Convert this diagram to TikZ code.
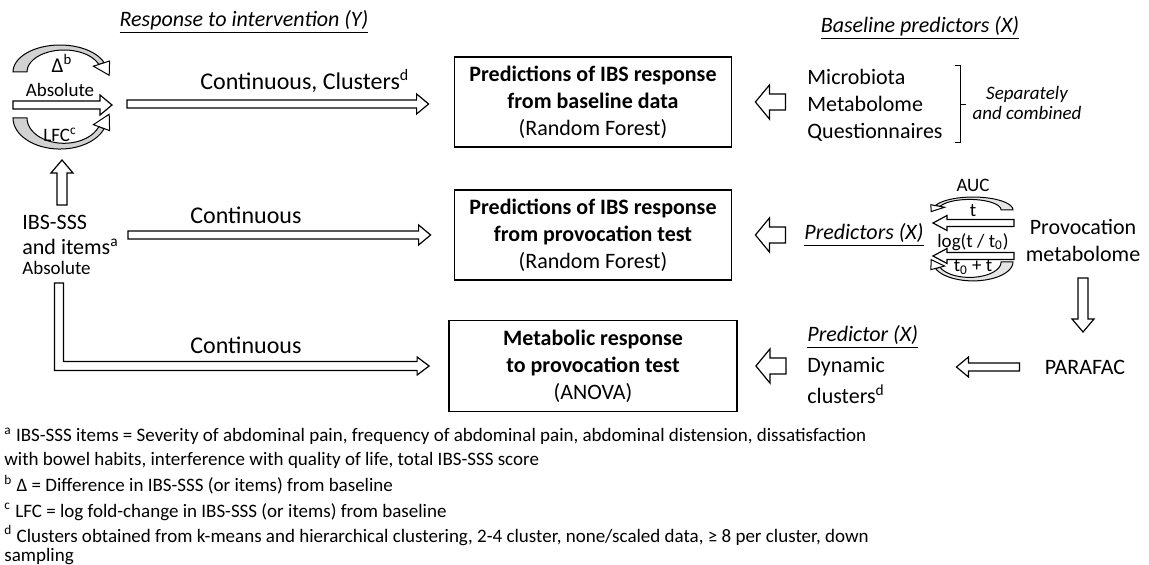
\documentclass[tikz,border=0pt]{standalone}
\usepackage{fontspec}
\setmainfont{Carlito}
\usetikzlibrary{positioning, calc}

\tikzset{
  % hollow block arrow: {shaft half width}{head half width}{head length}
  hollow/.style n args={3}{draw, fill=white, line width=0.6pt,
    to path={let \p1=(\tikztostart), \p2=(\tikztotarget),
      \n1={atan2(\y2-\y1,\x2-\x1)}, \n2={veclen(\x2-\x1,\y2-\y1)} in
      ($(\p1)+(\n1+90:#1)$) -- ++(\n1:{\n2-#3}) -- ++(\n1+90:{#2-#1}) -- (\p2)
      -- ($(\p2)+(\n1+180:#3)+(\n1-90:#2)$) -- ++(\n1+90:{#2-#1})
      -- ($(\p1)+(\n1-90:#1)$) -- cycle}},
  longarr/.style={hollow={2pt}{5pt}{6pt}},
  fatarr/.style={hollow={4pt}{8.5pt}{7pt}},
  thinarr/.style={hollow={1.75pt}{3.75pt}{7pt}},
  vertarr/.style={hollow={2.5pt}{5.5pt}{6.5pt}},
  % curved band arrow
  curvarr/.pic={
    \path[draw, line width=0.5pt, fill=#1]
      plot[domain=180:340, samples=30] ({47*cos(\x)},{27*sin(\x)})
      -- plot[domain=340:180, samples=30] ({4+37*cos(\x)},{22*sin(\x)}) -- cycle;
    \path[draw, line width=0.5pt, fill=white] (44.2,-9.2) -- (49.6,-11) -- (49.2,3.3)
      -- (33.4,-5.8) -- (38.8,-7.5) -- cycle;
  },
  txt/.style={inner sep=1pt, font=\fontsize{11}{13.5}\selectfont},
  small/.style={inner sep=1pt, font=\fontsize{9.5}{11}\selectfont},
  lbl/.style={inner sep=1pt, anchor=west, font=\fontsize{12}{14}\selectfont},
  note/.style={inner sep=0pt, anchor=base west, font=\fontsize{9.5}{11}\selectfont},
  box/.style={draw, line width=0.9pt, minimum width=138.5pt, minimum height=45pt,
    align=center, font=\fontsize{11}{13.5}\selectfont},
}

\begin{document}
\begin{tikzpicture}[x=0.5pt, y=-0.5pt]
\useasboundingbox (0,0) rectangle (1149,565);

% titles
\node[txt] (ytitle) at (244,22) {\underline{\textit{Response to intervention (Y)}}};
\node[txt] (xtitle) at (920,28) {\underline{\textit{Baseline predictors (X)}}};

% boxes
\node[box] (predbase) at (593,102) {\textbf{Predictions of IBS response}\\\textbf{from baseline data}\\(Random Forest)};
\node[box] (predprov) at (593,235) {\textbf{Predictions of IBS response}\\\textbf{from provocation test}\\(Random Forest)};
\node[box, minimum width=144pt, minimum height=45.5pt] (metab) at (593,366) {\textbf{Metabolic response}\\\textbf{to provocation test}\\(ANOVA)};

% response (left)
\pic at (60,72) {curvarr=gray!35};
\pic[yscale=-1.15] at (60,118) {curvarr=gray!35};
\node[small, font=\fontsize{10.5}{12}\selectfont] (delta) at (62,63) {Δ\textsuperscript{b}};
\node[small] (absol) at (60,90) {Absolute};
\node[small] (lfc) at (60,135) {LFC\textsuperscript{c}};
\node[txt, align=left, anchor=west, font=\fontsize{11}{12.5}\selectfont] (ibs) at (20,235) {IBS-SSS\\and items\textsuperscript{a}};
\node[small, anchor=west] (ibsabs) at (20,268) {Absolute};

\coordinate (absin) at (13,105);
\coordinate (absout) at (112,105);
\coordinate (upfoot) at (62,205);
\coordinate (uptip) at (62,160);
\coordinate (r1start) at (127,104);
\coordinate (r2start) at (128,235);
\coordinate (lstart) at (59,283);
\coordinate (ltip) at ($(metab.west)+(-19,0)$);

\draw[longarr] (absin) to (absout);
\draw[vertarr] (upfoot) to (uptip);
\draw[longarr] (r1start) to ($(r1start -| predbase.west)+(-25,0)$);
\draw[longarr] (r2start) to ($(predprov.west)+(-23,0)$);
\draw[draw, fill=white, line width=0.6pt] ($(lstart)+(-4.5,0)$) |- ($(ltip)+(-12,4.5)$)
  -- ($(ltip)+(-12,9)$) -- (ltip) -- ($(ltip)+(-12,-9)$) -- ($(ltip)+(-12,-4.5)$)
  -| ($(lstart)+(4.5,0)$) -- cycle;

\node[lbl] (lab1) at (198,81) {Continuous, Clusters\textsuperscript{d}};
\node[lbl] (lab2) at (188,215) {Continuous};
\node[lbl] (lab3) at (188,345) {Continuous};

% predictors (right)
\node[txt, align=left, anchor=west] (baselist) at (805,105) {Microbiota\\Metabolome\\Questionnaires};
\draw[line width=0.4pt] (955,65) -- (960,65) -- (960,142) -- (955,142) (960,104) -- (966,104);
\node[small, font=\fontsize{9.5}{10}\selectfont\itshape, align=center] (separ) at (1027,103) {Separately\\and combined};

\node[txt] (predictors) at (864,235) {\underline{\textit{Predictors (X)}}};
\pic[xscale=-0.85, yscale=0.48] at (973,210) {curvarr=gray!20};
\pic[xscale=-0.85, yscale=-0.7] at (973,262) {curvarr=gray!20};
\node[small] (auc) at (973,185) {AUC};
\node[small] (tlab) at (973,211) {t};
\node[small] (loglab) at (973,242) {log(t / t\textsubscript{0})};
\node[small] (t0lab) at (973,267) {t\textsubscript{0} + t};
\node[txt, align=center] (provmet) at (1083,240) {Provocation\\metabolome};

\node[txt, anchor=west] (predictor) at (805,337) {\underline{\textit{Predictor (X)}}};
\node[txt, anchor=west] (dynamic) at (805,367) {Dynamic};
\node[txt, anchor=west] (clusters) at (805,394) {clusters\textsuperscript{d}};
\node[txt] (parafac) at (1085,367) {PARAFAC};

\coordinate (t1in) at (1014,223);
\coordinate (t1out) at (933,223);
\coordinate (t2in) at (1014,256);
\coordinate (t2out) at (933,256);
\coordinate (dtop) at (1083,278);
\coordinate (dtip) at (1083,332);

\draw[fatarr] ($(predbase.east)+(53,0)$) to ($(predbase.east)+(23,0)$);
\draw[fatarr] ($(predprov.east)+(53,0)$) to ($(predprov.east)+(23,0)$);
\draw[fatarr] ($(metab.east)+(48,0)$) to ($(metab.east)+(18,0)$);
\draw[thinarr] (t1in) to (t1out);
\draw[thinarr] (t2in) to (t2out);
\draw[vertarr] (dtop) to (dtip);
\draw[longarr] ($(parafac.west)+(-23,0)$) to ($(parafac.west)+(-86,0)$);

% footnotes
\node[note] (note1) at (4,442) {\textsuperscript{a} IBS-SSS items = Severity of abdominal pain, frequency of abdominal pain, abdominal distension, dissatisfaction};
\node[note] (note2) at (4,466) {with bowel habits, interference with quality of life, total IBS-SSS score};
\node[note] (note3) at (4,492) {\textsuperscript{b} Δ = Difference in IBS-SSS (or items) from baseline};
\node[note] (note4) at (4,517) {\textsuperscript{c} LFC = log fold-change in IBS-SSS (or items) from baseline};
\node[note] (note5) at (4,542) {\textsuperscript{d} Clusters obtained from k-means and hierarchical clustering, 2-4 cluster, none/scaled data, ≥ 8 per cluster, down};
\node[note] (note6) at (4,561) {sampling};
\end{tikzpicture}
\end{document}
